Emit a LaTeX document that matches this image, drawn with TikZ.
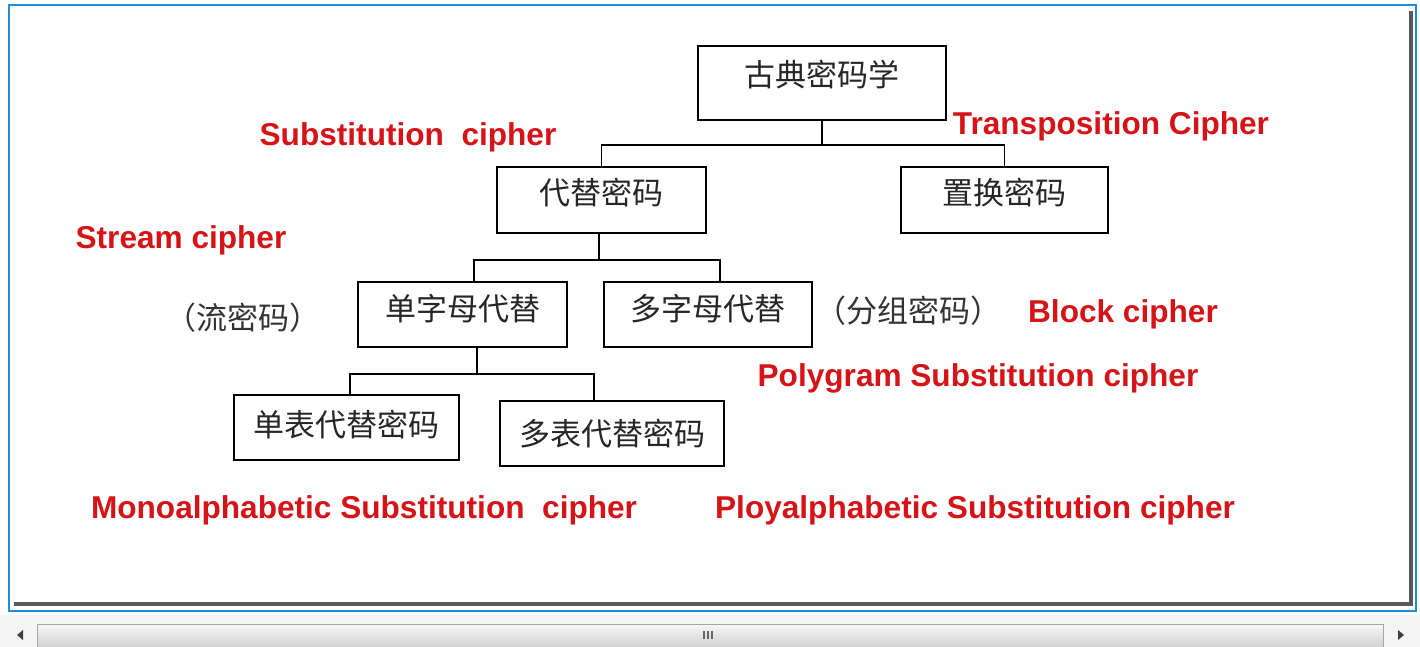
\documentclass[tikz,border=0pt]{standalone}
\usepackage{fontspec}
\newfontfamily\cjk{Noto Sans CJK SC}
\newfontfamily\lab{Liberation Sans}
\usetikzlibrary{shapes,arrows}
\definecolor{labred}{RGB}{214,20,24}
\definecolor{frameblue}{RGB}{32,142,214}

\begin{document}
\begin{tikzpicture}[x=0.5pt, y=-0.5pt,
    box/.style={draw, line width=0.9pt, inner sep=0pt, text height=14pt,
        font=\cjk\fontsize{15.5}{18}\selectfont, text=black!85},
    cn/.style={font=\cjk\fontsize{15.5}{18}\selectfont, text=black!80},
    en/.style={font=\lab\bfseries\fontsize{15.8}{18}\selectfont, text=labred},
    link/.style={line width=0.9pt}]
    \useasboundingbox (0,0) rectangle (1420,647);

    % window frame and scroll bar
    \fill[white] (0,0) rectangle (1420,647);
    \draw[frameblue, line width=1pt] (9,5) rectangle (1416,611);
    \draw[black!65, line width=1.6pt] (14,604) -- (1411,604) -- (1411,11);
    \fill[black!4] (0,615) rectangle (1420,647);
    \shade[top color=black!3, bottom color=black!18, draw=black!35] (37,624) rectangle (1383,647);
    \fill[black!75] (17,635) -- (23,630) -- (23,640) -- cycle;
    \fill[black!75] (1404,635) -- (1398,630) -- (1398,640) -- cycle;
    \foreach \gx in {704,708,712}
        \draw[black!60, line width=0.6pt] (\gx,631) -- (\gx,639);

    % boxes
    \node[box, minimum width=124pt, minimum height=37pt, text depth=10pt] (root) at (822,83) {古典密码学};
    \node[box, minimum width=104.5pt, minimum height=33pt, text depth=9pt] (sub) at (601.5,200) {代替密码};
    \node[box, minimum width=103.5pt, minimum height=33pt, text depth=9pt] (trans) at (1004.5,200) {置换密码};
    \node[box, minimum width=104.5pt, minimum height=32.5pt, text depth=8.5pt] (mono) at (462.5,314.5) {单字母代替};
    \node[box, minimum width=104pt, minimum height=32.5pt, text depth=8.5pt] (poly) at (708,314.5) {多字母代替};
    \node[box, minimum width=112.5pt, minimum height=32.5pt, text depth=5.5pt] (monotab) at (346.5,427.5) {单表代替密码};
    \node[box, minimum width=112pt, minimum height=32.5pt, text depth=2pt] (polytab) at (612,433.5) {多表代替密码};

    \node[cn] (stream) at (243,318) {（流密码）};
    \node[cn] (block) at (908,311) {（分组密码）};

    % connectors
    \draw[link] (root.south) -- ++(0,24) coordinate (j1);
    \draw[link] (sub.north) |- (j1) -| (trans.north);
    \draw[link] ([xshift=-1.25pt]sub.south) -- ++(0,26) coordinate (j2);
    \draw[link] ([xshift=5.75pt]mono.north) |- (j2) -| ([xshift=6pt]poly.north);
    \draw[link] ([xshift=7.25pt]mono.south) -- ++(0,26) coordinate (j3);
    \draw[link] ([xshift=1.75pt]monotab.north) |- (j3) -| ([xshift=-9pt]polytab.north);

    % red labels
    \node[en] (lsub) at (408,137) {Substitution \ cipher};
    \node[en] (ltrans) at (1111,126) {Transposition Cipher};
    \node[en] (lstream) at (181,240) {Stream cipher};
    \node[en] (lblock) at (1123,314) {Block cipher};
    \node[en] (lpoly) at (978,378) {Polygram Substitution cipher};
    \node[en] (lmono) at (364,510) {Monoalphabetic Substitution \ cipher};
    \node[en] (lpolytab) at (975,510) {Ployalphabetic Substitution cipher};
\end{tikzpicture}
\end{document}
